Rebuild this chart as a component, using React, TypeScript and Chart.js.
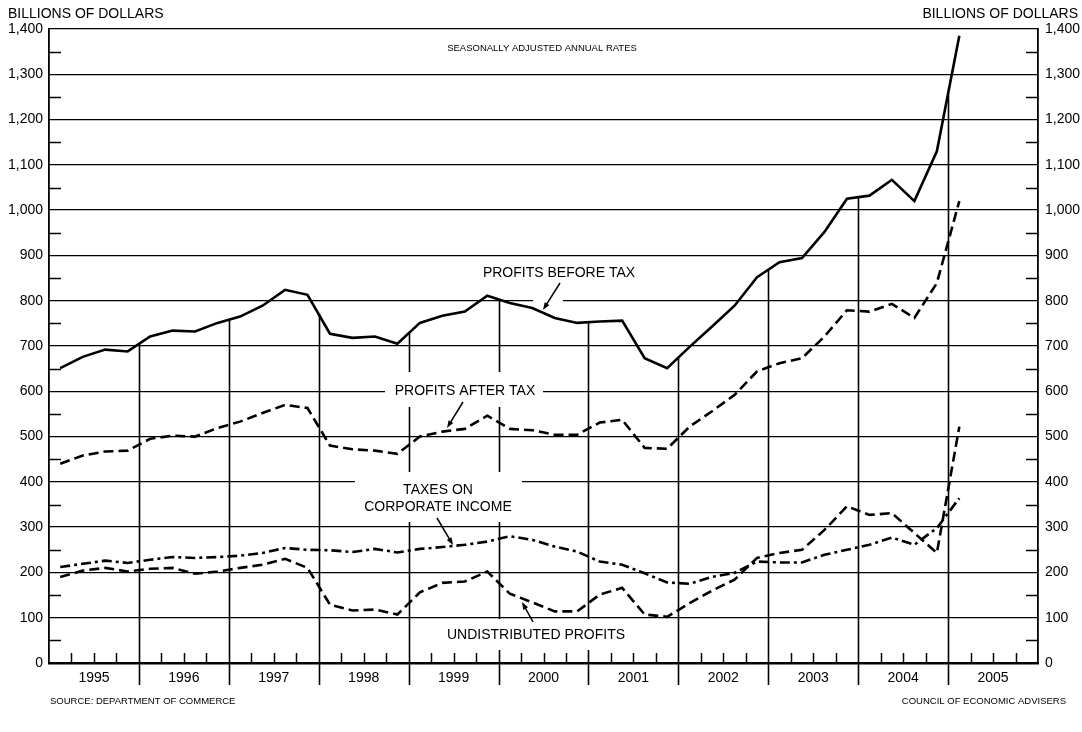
import React, { useEffect, useRef } from "react";
import { Chart, registerables } from "chart.js";

Chart.register(...registerables);

const FONT = "'Liberation Sans', Arial, sans-serif";

// Calendar years shown on the x axis (each year = 4 quarters)
const years = ["1995", "1996", "1997", "1998", "1999", "2000", "2001", "2002", "2003", "2004", "2005"];

// Quarterly values, 1995 Q1 .. 2005 Q1, billions of dollars (SAAR)
const profitsBeforeTax = [
  651, 676, 692, 688, 721, 734, 732, 751, 765, 789, 824, 813, 727, 718, 721, 705,
  751, 767, 776, 811, 795, 784, 762, 751, 754, 756, 673, 651, 698, 743, 789, 852,
  885, 894, 952, 1025, 1032, 1067, 1020, 1130, 1385,
];
const profitsAfterTax = [
  440, 458, 467, 469, 495, 502, 500, 519, 533, 552, 570, 563, 480, 472, 469, 462,
  500, 511, 517, 546, 517, 514, 504, 504, 531, 537, 475, 473, 522, 556, 592, 644,
  662, 673, 721, 779, 776, 793, 762, 839, 1020,
];
const taxesOnIncome = [
  212, 219, 226, 221, 228, 234, 232, 234, 237, 243, 254, 250, 249, 245, 252, 244,
  252, 256, 261, 268, 280, 272, 257, 246, 224, 217, 198, 178, 175, 190, 199, 224,
  222, 222, 239, 250, 261, 277, 261, 298, 364,
];
const undistributedProfits = [
  190, 204, 210, 202, 208, 210, 197, 202, 210, 217, 230, 210, 129, 116, 118, 107,
  156, 177, 180, 202, 153, 134, 114, 114, 151, 166, 107, 102, 132, 160, 184, 232,
  243, 250, 294, 346, 327, 331, 287, 243, 522,
];

const yMin = 0;
const yMax = 1400;
const yMinorStep = 50;

const toPoints = (arr: number[]) => arr.map((v, i) => ({ x: i + 0.5, y: v }));

function buildYTicks() {
  const t: { value: number }[] = [];
  for (let v = yMin; v <= yMax; v += yMinorStep) t.push({ value: v });
  return t;
}

function drawArrow(ctx: CanvasRenderingContext2D, x1: number, y1: number, x2: number, y2: number) {
  const ang = Math.atan2(y2 - y1, x2 - x1);
  const head = 8;
  ctx.beginPath();
  ctx.moveTo(x1, y1);
  ctx.lineTo(x2 - Math.cos(ang) * head * 0.6, y2 - Math.sin(ang) * head * 0.6);
  ctx.stroke();
  ctx.beginPath();
  ctx.moveTo(x2, y2);
  ctx.lineTo(x2 - head * Math.cos(ang - 0.35), y2 - head * Math.sin(ang - 0.35));
  ctx.lineTo(x2 - head * Math.cos(ang + 0.35), y2 - head * Math.sin(ang + 0.35));
  ctx.closePath();
  ctx.fill();
}

const decorPlugin = {
  id: "decor",
  beforeDatasetsDraw(chart: any) {
    const ctx: CanvasRenderingContext2D = chart.ctx;
    const xs = chart.scales.x;
    const ys = chart.scales.y;
    const { left, right, bottom } = chart.chartArea;
    const seg = (a: number, b: number, c: number, d: number) => {
      ctx.beginPath();
      ctx.moveTo(a, b);
      ctx.lineTo(c, d);
      ctx.stroke();
    };
    ctx.save();
    ctx.strokeStyle = "#000";
    ctx.lineWidth = 1.5;
    // minor y ticks (inward) on both axes
    for (let v = yMin + yMinorStep; v < yMax; v += 100) {
      const py = Math.round(ys.getPixelForValue(v)) + 0.5;
      seg(left, py, left + 12, py);
      seg(right - 12, py, right, py);
    }
    // quarter ticks (inward from bottom)
    for (let q = 1; q < years.length * 4; q++) {
      if (q % 4 === 0) continue;
      const px = Math.round(xs.getPixelForValue(q)) + 0.5;
      seg(px, bottom, px, bottom - 10);
    }
    // year boundary lines, from the profits-before-tax curve down past the axis
    ctx.lineWidth = 1.6;
    for (let k = 1; k < years.length; k++) {
      const b = 4 * k;
      const v = (profitsBeforeTax[b - 1] + profitsBeforeTax[b]) / 2;
      const px = Math.round(xs.getPixelForValue(b)) + 0.5;
      seg(px, ys.getPixelForValue(v), px, bottom + 22);
    }
    // white knock-out boxes behind labels
    ctx.fillStyle = "#fff";
    ctx.fillRect(385, 372, 158, 35);
    ctx.fillRect(355, 472, 167, 50);
    ctx.fillRect(442, 619, 186, 31);
    ctx.fillRect(533, 296, 30, 8);
    ctx.restore();
  },
  afterDraw(chart: any) {
    const ctx: CanvasRenderingContext2D = chart.ctx;
    ctx.save();
    ctx.fillStyle = "#000";
    ctx.strokeStyle = "#000";
    ctx.textBaseline = "middle";
    ctx.font = `14px ${FONT}`;
    ctx.textAlign = "left";
    ctx.fillText("BILLIONS OF DOLLARS", 8, 14);
    ctx.textAlign = "right";
    ctx.fillText("BILLIONS OF DOLLARS", 1078, 14);
    ctx.textAlign = "center";
    ctx.fillText("PROFITS BEFORE TAX", 559, 273);
    ctx.fillText("PROFITS AFTER TAX", 465, 391);
    ctx.fillText("TAXES ON", 438, 490);
    ctx.fillText("CORPORATE INCOME", 438, 507);
    ctx.fillText("UNDISTRIBUTED PROFITS", 536, 635);
    ctx.font = `9.5px ${FONT}`;
    ctx.fillText("SEASONALLY ADJUSTED ANNUAL RATES", 542, 48);
    ctx.textAlign = "left";
    ctx.fillText("SOURCE: DEPARTMENT OF COMMERCE", 50, 701);
    ctx.textAlign = "right";
    ctx.fillText("COUNCIL OF ECONOMIC ADVISERS", 1066, 701);
    ctx.lineWidth = 1.5;
    drawArrow(ctx, 560, 283, 543, 310);
    drawArrow(ctx, 463, 402, 447, 428);
    drawArrow(ctx, 437, 518, 453, 545);
    drawArrow(ctx, 533, 622, 522, 602);
    ctx.restore();
  },
};

export default function App() {
  const ref = useRef<HTMLCanvasElement>(null);
  useEffect(() => {
    if (!ref.current) return;
    const tickFont = { family: FONT, size: 14 };
    const chart = new Chart(ref.current, {
      type: "line",
      data: {
        datasets: [
          {
            label: "Profits before tax",
            data: toPoints(profitsBeforeTax),
            borderColor: "#000",
            borderWidth: 2.6,
            pointRadius: 0,
            yAxisID: "y",
          },
          {
            label: "Profits after tax",
            data: toPoints(profitsAfterTax),
            borderColor: "#000",
            borderWidth: 2.6,
            borderDash: [10, 5],
            pointRadius: 0,
            yAxisID: "y",
          },
          {
            label: "Taxes on corporate income",
            data: toPoints(taxesOnIncome),
            borderColor: "#000",
            borderWidth: 2.6,
            borderDash: [10, 4, 3, 4],
            pointRadius: 0,
            yAxisID: "y",
          },
          {
            label: "Undistributed profits",
            data: toPoints(undistributedProfits),
            borderColor: "#000",
            borderWidth: 2.6,
            borderDash: [10, 5],
            pointRadius: 0,
            yAxisID: "y",
          },
        ],
      },
      options: {
        animation: false,
        responsive: false,
        maintainAspectRatio: false,
        layout: { padding: { top: 29, left: 0, right: 0, bottom: 0 } },
        plugins: { legend: { display: false }, tooltip: { enabled: false } },
        elements: { line: { tension: 0 } },
        scales: {
          x: {
            type: "linear",
            min: 0,
            max: years.length * 4,
            afterFit: (s: any) => {
              s.height = 69;
            },
            afterBuildTicks: (s: any) => {
              s.ticks = years.map((_, k) => ({ value: 4 * k + 2 }));
            },
            ticks: {
              autoSkip: false,
              maxRotation: 0,
              padding: 7,
              color: "#000",
              font: tickFont,
              callback: (v: any) => years[Math.round((Number(v) - 2) / 4)] ?? "",
            },
            grid: { display: false, drawTicks: false },
            border: { display: true, color: "#000", width: 2.5 },
          },
          y: {
            position: "left",
            min: yMin,
            max: yMax,
            afterFit: (s: any) => {
              s.width = 49;
            },
            afterBuildTicks: (s: any) => {
              s.ticks = buildYTicks();
            },
            ticks: {
              autoSkip: false,
              padding: 6,
              color: "#000",
              font: tickFont,
              callback: (v: any) => (Number(v) % 100 === 0 ? Number(v).toLocaleString("en-US") : ""),
            },
            grid: {
              drawTicks: false,
              lineWidth: 1.3,
              color: (c: any) => (c.tick && c.tick.value % 100 === 0 ? "#000" : "rgba(0,0,0,0)"),
            },
            border: { display: true, color: "#000", width: 1.8 },
          },
          y2: {
            position: "right",
            min: yMin,
            max: yMax,
            afterFit: (s: any) => {
              s.width = 44;
            },
            afterBuildTicks: (s: any) => {
              s.ticks = buildYTicks();
            },
            ticks: {
              autoSkip: false,
              padding: 7,
              color: "#000",
              font: tickFont,
              callback: (v: any) => (Number(v) % 100 === 0 ? Number(v).toLocaleString("en-US") : ""),
            },
            grid: { display: false, drawTicks: false },
            border: { display: true, color: "#000", width: 1.8 },
          },
        },
      },
      plugins: [decorPlugin],
    } as any);
    return () => chart.destroy();
  }, []);
  return (
    <div style={{ position: "fixed", left: 0, top: 0, width: 1082, height: 732, background: "#fff" }}>
      <canvas ref={ref} width={1082} height={732} style={{ width: 1082, height: 732, display: "block" }} />
    </div>
  );
}
